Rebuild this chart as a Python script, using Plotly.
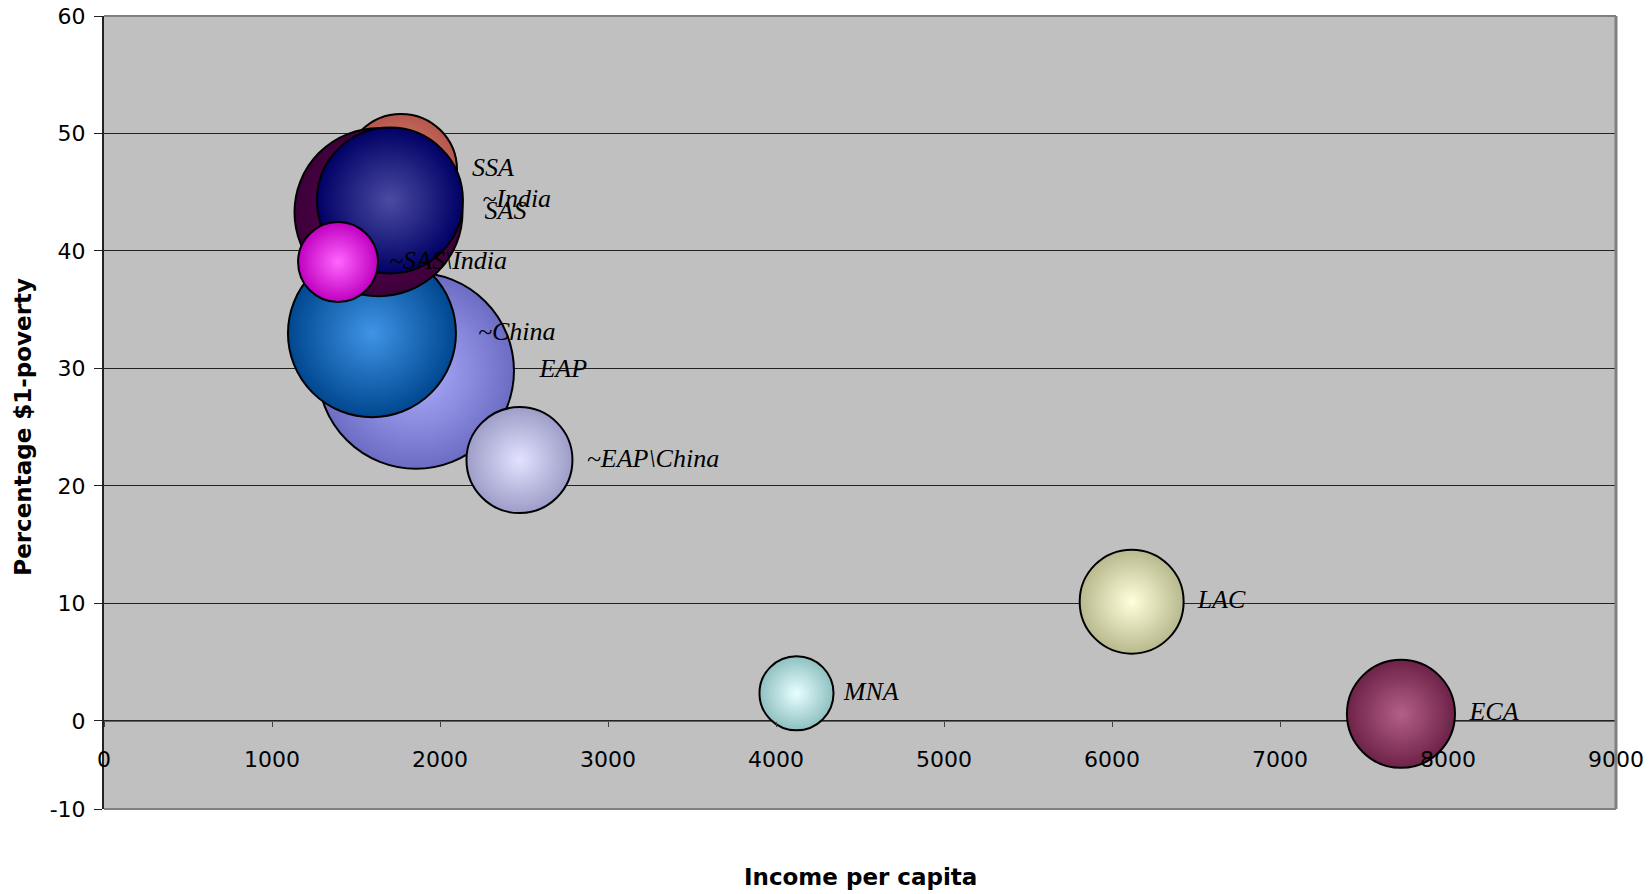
import plotly.graph_objects as go

# ---- data ----
regions = ["EAP", "~China", "~EAP\\China", "ECA", "LAC", "MNA", "SSA", "SAS", "~India", "~SAS\\India"]
income = [1857, 1595, 2473, 7720, 6117, 4122, 1768, 1634, 1702, 1393]
poverty = [29.8, 33.0, 22.2, 0.6, 10.15, 2.35, 46.9, 43.3, 44.3, 39.06]
population = [1905, 1400, 557, 579, 536, 272, 622, 1400, 1057, 317]
edge_colors = ["#6c6cc4", "#00478f", "#9d9dc8", "#6e2248", "#b9b98e", "#8fc0c0", "#b4564c", "#3c0038", "#000066", "#c000c0"]
center_colors = ["#b0b0ff", "#3f94e6", "#e2e2ff", "#b45f88", "#ffffdc", "#e8ffff", "#e0887c", "#650062", "#4b4ba2", "#ff66ff"]

x_ticks = [0, 1000, 2000, 3000, 4000, 5000, 6000, 7000, 8000, 9000]
y_tickvals = [-7.5, 0, 10, 20, 30, 40, 50, 60]
y_ticktext = ["-10", "0", "10", "20", "30", "40", "50", "60"]
x_range = [0, 9000]
y_range = [-7.5, 60]

fig = go.Figure()
fig.add_trace(go.Scatter(
    x=income, y=poverty, mode="markers+text", text=regions,
    textposition="middle right",
    textfont=dict(family="Liberation Serif", size=26, color="black", style="italic"),
    marker=dict(
        size=population, sizemode="area", sizeref=0.0992,
        color=edge_colors,
        gradient=dict(type="radial", color=center_colors),
        line=dict(color="black", width=2),
        opacity=1,
    ),
    cliponaxis=False,
    showlegend=False,
    hoverinfo="x+y+text",
))

zero_pos = (0 - y_range[0]) / (y_range[1] - y_range[0])

fig.update_layout(
    width=1652, height=894,
    margin=dict(l=104, r=36, t=16, b=85, autoexpand=False),
    paper_bgcolor="white",
    plot_bgcolor="#c0c0c0",
    font=dict(family="DejaVu Sans", size=22, color="black"),
    xaxis=dict(
        range=x_range, tickvals=x_ticks, showgrid=False, zeroline=False,
        anchor="free", position=zero_pos, showline=False, automargin=False,
        ticks="outside", ticklen=5, tickwidth=1, tickcolor="#404040",
        ticklabelstandoff=14,
        tickfont=dict(family="DejaVu Sans", size=22, color="black"),
    ),
    yaxis=dict(
        range=y_range, tickvals=y_tickvals, ticktext=y_ticktext, automargin=False,
        showgrid=True, gridcolor="#222222", gridwidth=1, zeroline=False,
        showline=True, linecolor="#222222", linewidth=2,
        ticks="outside", ticklen=8, tickwidth=1, tickcolor="#222222",
        ticklabelstandoff=4,
        tickfont=dict(family="DejaVu Sans", size=22, color="black"),
    ),
    shapes=[
        dict(type="line", xref="paper", yref="paper", x0=0, x1=1, y0=1, y1=1,
             line=dict(color="#808080", width=2), layer="above"),
        dict(type="line", xref="paper", yref="paper", x0=1, x1=1, y0=0, y1=1,
             line=dict(color="#808080", width=3), layer="above"),
        dict(type="line", xref="paper", yref="paper", x0=0, x1=1, y0=0, y1=0,
             line=dict(color="#808080", width=2), layer="above"),
        dict(type="line", xref="paper", yref="y", x0=0, x1=1, y0=0, y1=0,
             line=dict(color="#404040", width=1.5), layer="below"),
    ],
    annotations=[
        dict(text="<b>Income per capita</b>", xref="paper", yref="paper",
             x=0.5, y=-0.0858, xanchor="center", yanchor="middle", showarrow=False,
             font=dict(family="DejaVu Sans", size=23, color="black")),
        dict(text="<b>Percentage $1-poverty</b>", xref="paper", yref="paper",
             x=-0.0536, y=0.482, xanchor="center", yanchor="middle", showarrow=False,
             textangle=-90,
             font=dict(family="DejaVu Sans", size=23, color="black")),
    ],
)

fig.write_html("out.html")
